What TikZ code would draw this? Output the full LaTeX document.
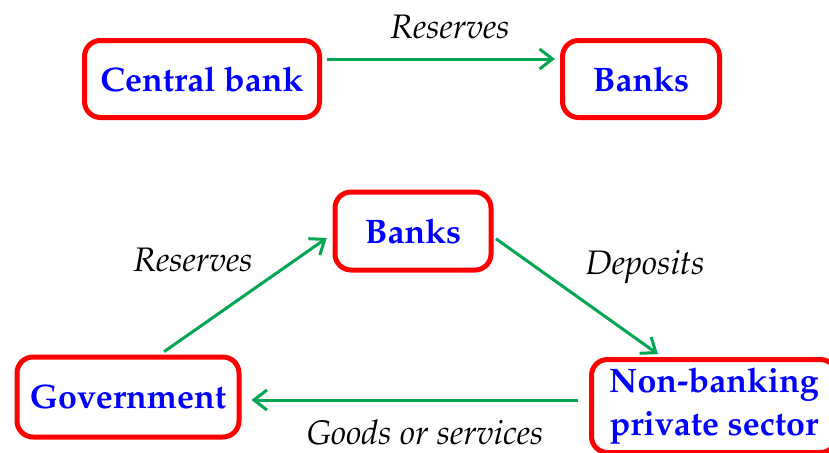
\documentclass[tikz,border=0pt]{standalone}
\usepackage[T1]{fontenc}
\usepackage{mathpazo}
\usetikzlibrary{arrows.meta}
\definecolor{boxred}{RGB}{255,0,0}
\definecolor{txtblue}{RGB}{0,0,255}
\definecolor{flowgreen}{RGB}{0,166,81}

\begin{document}
\begin{tikzpicture}[x=0.5pt,y=-0.5pt]
  \tikzstyle{every node}=[text=black]
  \tikzstyle{box}=[draw=boxred,line width=2.5pt,rounded corners=8pt,text=txtblue,font=\fontsize{17}{21.5}\selectfont\bfseries,align=center,inner sep=0pt]
  \tikzstyle{flow}=[-{Straight Barb[length=6.5pt,width=10pt]},draw=flowgreen,line width=1.5pt]
  \tikzstyle{lbl}=[font=\fontsize{17}{20}\selectfont\itshape]
  \useasboundingbox (0,0) rectangle (829,452);

  % top row
  \node [box,minimum width=117.5pt,minimum height=38.5pt] (cb) at (202,79) {Central bank};
  \node [box,minimum width=78.5pt,minimum height=38.5pt]  (bt) at (641,79) {Banks};
  \node [lbl] (rt) at (450,27) {Reserves};
  \draw [flow,shorten <=2.5pt,shorten >=2.5pt] ([yshift=10pt]cb.east) -- ([yshift=10pt]bt.west);

  % triangle
  \node [box,minimum width=78pt,minimum height=39pt]    (bm)  at (413,231) {Banks};
  \node [box,minimum width=111pt,minimum height=40pt]   (gov) at (128,397) {Government};
  \node [box,minimum width=122.5pt,minimum height=46.5pt] (nb) at (714,406) {Non-banking\\private sector};

  \node [lbl] (rm) at (193,260) {Reserves};
  \node [lbl] (dp) at (645,267) {Deposits};
  \node [lbl] (gs) at (425,432) {Goods or services};

  \draw [flow,shorten <=2.5pt,shorten >=3.5pt] ([xshift=16pt]gov.north) -- ([yshift=-1.5pt]bm.west);
  \draw [flow,shorten <=1.5pt,shorten >=2.5pt] ([yshift=-3pt]bm.east) -- ([xshift=-26pt]nb.north);
  \draw [flow,shorten <=5.5pt,shorten >=5pt] ([yshift=3pt]nb.west) -- ([yshift=-1.5pt]gov.east);
\end{tikzpicture}
\end{document}
